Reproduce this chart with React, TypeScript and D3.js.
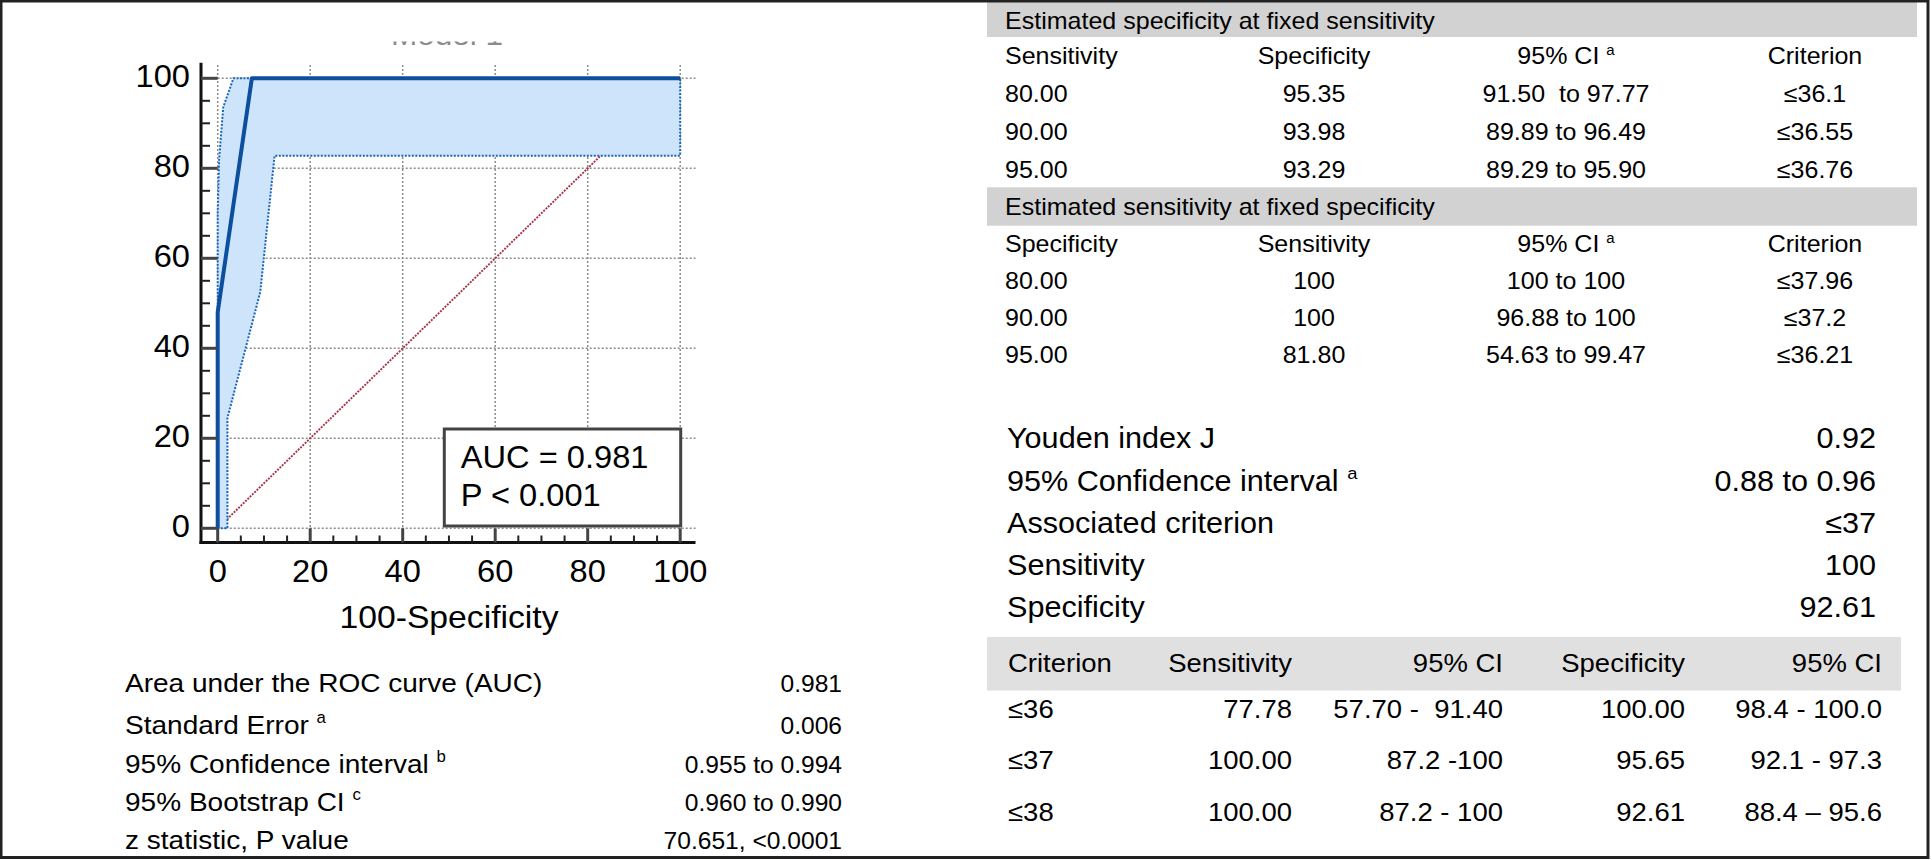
import React from 'react';
import * as d3 from 'd3';

const W = 1932;
const H = 860;
const SX = 1.07;
const FONT = '"Liberation Sans", Arial, Helvetica, sans-serif';

// ROC curve (100-Specificity, Sensitivity)
const rocFpr = [0, 0, 7.39, 100];
const rocTpr = [0, 48, 100, 100];
// confidence band bounds
const ciUpperFpr = [0, 0, 0.3, 1.2, 3.4, 100];
const ciUpperTpr = [0, 70, 82, 93.6, 100, 100];
const ciLowerFpr = [100, 12.3, 9.2, 2.1, 2.1, 0];
const ciLowerTpr = [82.8, 82.8, 52.5, 24.5, 0, 0];
const diagFpr = [0, 100];
const diagTpr = [0, 100];

const majorTicks = [0, 20, 40, 60, 80, 100];
const titleText = 'Model 1';
const xTitle = '100-Specificity';
const aucLines = ['AUC = 0.981', 'P < 0.001'];

const statLabels = ['Area under the ROC curve (AUC)', 'Standard Error', '95% Confidence interval', '95% Bootstrap CI', 'z statistic, P value'];
const statSups = ['', 'a', 'b', 'c', ''];
const statValues = ['0.981', '0.006', '0.955 to 0.994', '0.960 to 0.990', '70.651, <0.0001'];

const t1Title = 'Estimated specificity at fixed sensitivity';
const t1Header = ['Sensitivity', 'Specificity', '95% CI', 'Criterion'];
const t1Rows = [
  ['80.00', '95.35', '91.50  to 97.77', '≤36.1'],
  ['90.00', '93.98', '89.89 to 96.49', '≤36.55'],
  ['95.00', '93.29', '89.29 to 95.90', '≤36.76'],
];
const t2Title = 'Estimated sensitivity at fixed specificity';
const t2Header = ['Specificity', 'Sensitivity', '95% CI', 'Criterion'];
const t2Rows = [
  ['80.00', '100', '100 to 100', '≤37.96'],
  ['90.00', '100', '96.88 to 100', '≤37.2'],
  ['95.00', '81.80', '54.63 to 99.47', '≤36.21'],
];

const youdenLabels = ['Youden index J', '95% Confidence interval', 'Associated criterion', 'Sensitivity', 'Specificity'];
const youdenSups = ['', 'a', '', '', ''];
const youdenValues = ['0.92', '0.88 to 0.96', '≤37', '100', '92.61'];

const critHeader = ['Criterion', 'Sensitivity', '95% CI', 'Specificity', '95% CI'];
const critRows = [
  ['≤36', '77.78', '57.70 -  91.40', '100.00', '98.4 - 100.0'],
  ['≤37', '100.00', '87.2 -100', '95.65', '92.1 - 97.3'],
  ['≤38', '100.00', '87.2 - 100', '92.61', '88.4 – 95.6'],
];

type TP = { x: number; y: number; size: number; anchor?: string; fill?: string; sup?: string; children: React.ReactNode };
function T({ x, y, size, anchor = 'start', fill = '#000', sup, children }: TP) {
  return (
    <text
      transform={`translate(${x},${y}) scale(${SX},1)`}
      fontSize={size}
      textAnchor={anchor as any}
      fontFamily={FONT}
      fill={fill}
      style={{ whiteSpace: 'pre' }}
    >
      {children}
      {sup ? (
        <>
          <tspan> </tspan>
          <tspan fontSize={size * 0.6} dy={-size * 0.42}>{sup}</tspan>
        </>
      ) : null}
    </text>
  );
}

export default function App() {
  const x = d3.scaleLinear().domain([0, 100]).range([217.7, 680.2]);
  const y = d3.scaleLinear().domain([0, 100]).range([528.3, 78.3]);
  const minorTicks = x.ticks(20);

  const line = d3.line<number>();
  const rocPath = line(rocFpr.map((f, i) => [x(f), y(rocTpr[i])]) as any);
  const bandPts = [
    ...ciUpperFpr.map((f, i) => [x(f), y(ciUpperTpr[i])]),
    ...ciLowerFpr.map((f, i) => [x(f), y(ciLowerTpr[i])]),
  ];
  const bandPath = line(bandPts as any) + 'Z';
  const diagPath = line(diagFpr.map((f, i) => [x(f), y(diagTpr[i])]) as any);

  const axisX = 201;
  const axisY = 542.5;
  const gridRight = 695.5;
  const gridTop = 65;
  const tickSize = 30.5;

  // right panel column positions
  const tCol1 = 1005;
  const tCols = [1314, 1566, 1815];
  const tSize = 23.4;
  const t1Base = [64.4, 102.4, 140.4, 178.4];
  const t2Base = [252.4, 289.4, 326.4, 363.4];

  const yBase = [448.2, 490.7, 532.7, 574.7, 616.7];
  const ySize = 28.6;

  const cSize = 25.7;
  const cRight = [1292, 1503, 1685, 1882];
  const cHeadBase = 672;
  const cBase = [718, 769, 821];

  const sSize = 26.2;
  const sValSize = 23;
  const sBase = [692.4, 734.4, 773.4, 811.4, 849.4];

  return (
    <svg
      width={W}
      height={H}
      viewBox={`0 0 ${W} ${H}`}
      style={{ position: 'absolute', left: 0, top: 0, display: 'block', background: '#fff' }}
    >
      <defs>
        <clipPath id="titleClip">
          <rect x={300} y={41.5} width={300} height={8} />
        </clipPath>
      </defs>
      <rect x={0} y={0} width={W} height={H} fill="#fff" />

      {/* clipped title remnant */}
      <g clipPath="url(#titleClip)">
        <T x={447} y={45} size={29.5} anchor="middle" fill="#8a8a8a">{titleText}</T>
      </g>

      {/* grid */}
      <g stroke="#8c8c8c" strokeWidth={1.5} strokeDasharray="2,2" fill="none">
        {majorTicks.map((t) => (
          <line key={'gv' + t} x1={x(t)} x2={x(t)} y1={gridTop} y2={axisY} />
        ))}
        {majorTicks.map((t) => (
          <line key={'gh' + t} x1={x(0)} x2={gridRight} y1={y(t)} y2={y(t)} />
        ))}
      </g>

      {/* diagonal reference */}
      <path d={diagPath || ''} stroke="#a8344a" strokeWidth={1.9} strokeDasharray="2,1.2" fill="none" />

      {/* CI band */}
      <path d={bandPath} fill="#cde4fb" stroke="#1a66b8" strokeWidth={2} strokeDasharray="2,1.5" />

      {/* ROC curve */}
      <path d={rocPath || ''} stroke="#0b4f9e" strokeWidth={4} fill="none" strokeLinejoin="round" />

      {/* axes */}
      <line x1={axisX} x2={axisX} y1={62.7} y2={axisY + 1.5} stroke="#111" strokeWidth={3} />
      <line x1={axisX - 1.5} x2={gridRight} y1={axisY} y2={axisY} stroke="#111" strokeWidth={3} />
      {minorTicks.map((t) =>
        majorTicks.includes(t) ? null : (
          <g key={'mt' + t}>
            <line x1={axisX} x2={axisX + 9} y1={y(t)} y2={y(t)} stroke="#222" strokeWidth={2} />
            <line x1={x(t)} x2={x(t)} y1={axisY} y2={axisY - 7} stroke="#222" strokeWidth={2} />
          </g>
        )
      )}
      {majorTicks.map((t) => (
        <g key={'Mt' + t}>
          <line x1={axisX} x2={x(0)} y1={y(t)} y2={y(t)} stroke="#444" strokeWidth={3} />
          <line x1={x(t)} x2={x(t)} y1={axisY} y2={y(0)} stroke="#444" strokeWidth={3} />
          <T x={190} y={y(t) + 8.7} size={tickSize} anchor="end">{String(t)}</T>
          <T x={x(t)} y={582} size={tickSize} anchor="middle">{String(t)}</T>
        </g>
      ))}
      <T x={449} y={628} size={31.5} anchor="middle">{xTitle}</T>

      {/* AUC box */}
      <rect x={444.3} y={429} width={236.4} height={97} fill="#fff" stroke="#444" strokeWidth={3} />
      {aucLines.map((s, i) => (
        <T key={'auc' + i} x={460.7} y={467.7 + i * 38.3} size={30.5}>{s}</T>
      ))}

      {/* AUC statistics */}
      {statLabels.map((s, i) => (
        <g key={'st' + i}>
          <T x={125} y={sBase[i]} size={sSize} sup={statSups[i] || undefined}>{s}</T>
          <T x={842} y={sBase[i]} size={sValSize} anchor="end">{statValues[i]}</T>
        </g>
      ))}

      {/* Table 1 */}
      <rect x={987} y={2} width={930} height={35} fill="#d2d2d2" />
      <T x={tCol1} y={28.5} size={tSize}>{t1Title}</T>
      <T x={tCol1} y={t1Base[0]} size={tSize}>{t1Header[0]}</T>
      {t1Header.slice(1).map((h, j) => (
        <T key={'t1h' + j} x={tCols[j]} y={t1Base[0]} size={tSize} anchor="middle" sup={j === 1 ? 'a' : undefined}>{h}</T>
      ))}
      {t1Rows.map((r, i) => (
        <g key={'t1r' + i}>
          <T x={tCol1} y={t1Base[i + 1]} size={tSize}>{r[0]}</T>
          {r.slice(1).map((c, j) => (
            <T key={j} x={tCols[j]} y={t1Base[i + 1]} size={tSize} anchor="middle">{c}</T>
          ))}
        </g>
      ))}

      {/* Table 2 */}
      <rect x={987} y={187.3} width={930} height={38.4} fill="#d2d2d2" />
      <T x={tCol1} y={215} size={tSize}>{t2Title}</T>
      <T x={tCol1} y={t2Base[0]} size={tSize}>{t2Header[0]}</T>
      {t2Header.slice(1).map((h, j) => (
        <T key={'t2h' + j} x={tCols[j]} y={t2Base[0]} size={tSize} anchor="middle" sup={j === 1 ? 'a' : undefined}>{h}</T>
      ))}
      {t2Rows.map((r, i) => (
        <g key={'t2r' + i}>
          <T x={tCol1} y={t2Base[i + 1]} size={tSize}>{r[0]}</T>
          {r.slice(1).map((c, j) => (
            <T key={j} x={tCols[j]} y={t2Base[i + 1]} size={tSize} anchor="middle">{c}</T>
          ))}
        </g>
      ))}

      {/* Youden block */}
      {youdenLabels.map((s, i) => (
        <g key={'yd' + i}>
          <T x={1007} y={yBase[i]} size={ySize} sup={youdenSups[i] || undefined}>{s}</T>
          <T x={1876} y={yBase[i]} size={ySize} anchor="end">{youdenValues[i]}</T>
        </g>
      ))}

      {/* Criterion table */}
      <rect x={987} y={637} width={914} height={53.5} fill="#e0e0e0" />
      <T x={1008} y={cHeadBase} size={cSize}>{critHeader[0]}</T>
      {critHeader.slice(1).map((h, j) => (
        <T key={'ch' + j} x={cRight[j]} y={cHeadBase} size={cSize} anchor="end">{h}</T>
      ))}
      {critRows.map((r, i) => (
        <g key={'cr' + i}>
          <T x={1008} y={cBase[i]} size={cSize}>{r[0]}</T>
          {r.slice(1).map((c, j) => (
            <T key={j} x={cRight[j]} y={cBase[i]} size={cSize} anchor="end">{c}</T>
          ))}
        </g>
      ))}

      {/* outer border */}
      <rect x={1} y={1} width={1927} height={856.5} fill="none" stroke="#222" strokeWidth={3} />
    </svg>
  );
}
